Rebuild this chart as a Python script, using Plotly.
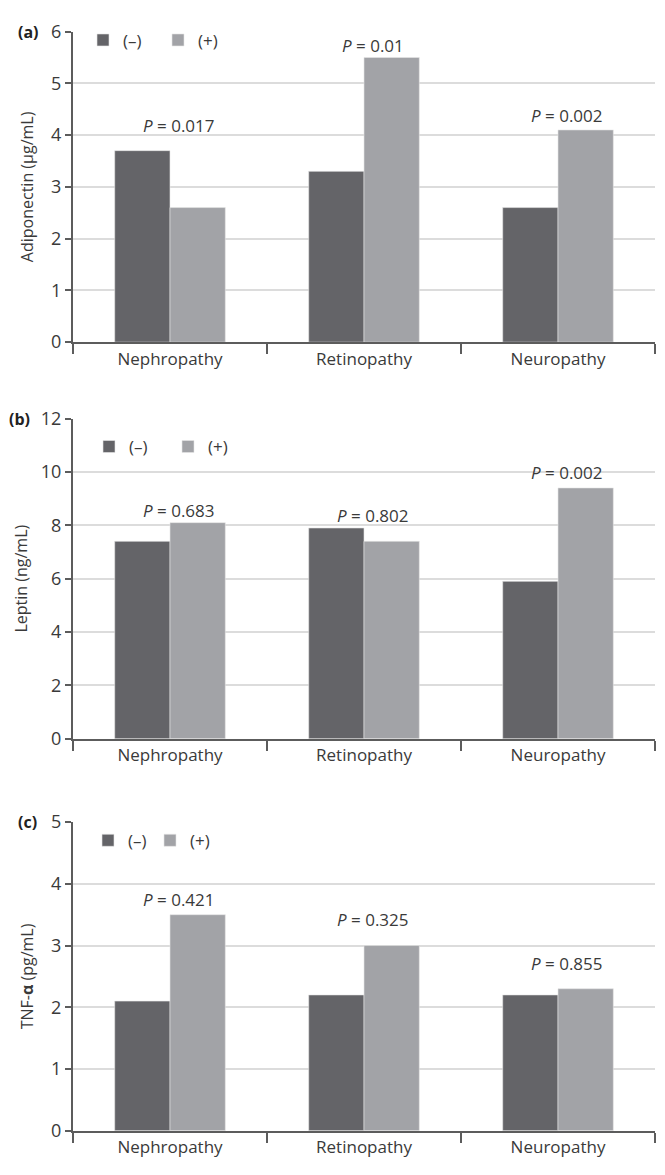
import plotly.graph_objects as go

categories = ["Nephropathy", "Retinopathy", "Neuropathy"]
series_names = ["(–)", "(+)"]

adiponectin_neg = [3.7, 3.3, 2.6]
adiponectin_pos = [2.6, 5.5, 4.1]
leptin_neg = [7.4, 7.9, 5.9]
leptin_pos = [8.1, 7.4, 9.4]
tnf_neg = [2.1, 2.2, 2.2]
tnf_pos = [3.5, 3.0, 2.3]

adiponectin_p = ["0.017", "0.01", "0.002"]
leptin_p = ["0.683", "0.802", "0.002"]
tnf_p = ["0.421", "0.325", "0.855"]

y_titles = ["Adiponectin (µg/mL)", "Leptin (ng/mL)", "TNF-<b>α</b> (pg/mL)"]
panel_letters = ["(a)", "(b)", "(c)"]
y_ranges = [[0, 6], [0, 12], [0, 5]]
y_dticks = [1, 2, 1]

# annotation placement (label centre, data units)
p_label_y = [[4.18, 5.74, 4.37], [8.55, 8.37, 9.98], [3.75, 3.43, 2.71]]

W, H = 665, 1175
DARK = "#646468"
LIGHT = "#a2a3a7"
AXIS = "#5c5c5c"
GRID = "#dcdcdc"
TXT = "#3a3a3a"
FONT = "Open Sans"

x_dom = [73 / W, 655 / W]
y_px = [(19, 336), (414, 741), (826, 1141)]
y_doms = [[1 - b / H, 1 - t / H] for t, b in y_px]
letter_x = [16, 7, 16]
title_standoff = [13, 9, 13]

fig = go.Figure()
panels = [
    (adiponectin_neg, adiponectin_pos, adiponectin_p),
    (leptin_neg, leptin_pos, leptin_p),
    (tnf_neg, tnf_pos, tnf_p),
]
legend_ids = ["legend", "legend2", "legend3"]
legend_pos = [(28, 83), (443, 89), (845, 88)]
legend_entry = [30, 34, 17]

for i, (neg, pos, pv) in enumerate(panels):
    xa = "x" if i == 0 else f"x{i+1}"
    ya = "y" if i == 0 else f"y{i+1}"
    for vals, name, col in [(neg, series_names[0], DARK), (pos, series_names[1], LIGHT)]:
        fig.add_trace(go.Bar(
            x=categories, y=vals, name=name, xaxis=xa, yaxis=ya,
            marker=dict(color=col, line=dict(color="#e6e6e6", width=0.6)),
            legend=legend_ids[i], showlegend=True, hoverinfo="skip",
        ))
    for j, cat in enumerate(categories):
        fig.add_annotation(
            x=cat, y=p_label_y[i][j], xref=xa, yref=ya,
            text=f"<i>P</i> = {pv[j]}", showarrow=False,
            xshift=9, yanchor="middle",
            font=dict(family=FONT, size=17, color=TXT),
        )
    fig.add_annotation(
        x=letter_x[i] / W, y=1 - y_px[i][0] / H, xref="paper", yref="paper",
        text=f"<b>{panel_letters[i]}</b>", showarrow=False,
        xanchor="left", yanchor="middle",
        font=dict(family=FONT, size=16, color="#222"),
    )
    ly, lx = legend_pos[i]
    fig.update_layout({
        legend_ids[i]: dict(
            orientation="h", x=lx / W, y=1 - ly / H, xanchor="left", yanchor="middle",
            font=dict(family=FONT, size=17, color=TXT),
            bgcolor="rgba(0,0,0,0)", itemclick=False, itemdoubleclick=False,
            entrywidth=legend_entry[i],
        )
    })
    xkey = "xaxis" if i == 0 else f"xaxis{i+1}"
    ykey = "yaxis" if i == 0 else f"yaxis{i+1}"
    fig.update_layout({
        xkey: dict(
            domain=x_dom, anchor=ya, type="category",
            showline=True, linecolor=AXIS, linewidth=2,
            ticks="outside", tickson="boundaries", ticklen=10, tickwidth=1.5, tickcolor=AXIS,
            tickfont=dict(family=FONT, size=17, color=TXT),
            showgrid=False, fixedrange=True,
        ),
        ykey: dict(
            domain=y_doms[i], anchor=xa, range=y_ranges[i], dtick=y_dticks[i],
            showline=True, linecolor=AXIS, linewidth=2,
            ticks="outside", ticklen=6, tickwidth=1.5, tickcolor=AXIS,
            tickfont=dict(family=FONT, size=18, color=TXT),
            showgrid=True, gridcolor=GRID, gridwidth=1.5,
            zeroline=False, fixedrange=True,
            title=dict(text=y_titles[i], font=dict(family=FONT, size=16, color=TXT),
                       standoff=title_standoff[i]),
        ),
    })

fig.update_layout(
    width=W, height=H, margin=dict(l=0, r=0, t=0, b=0),
    paper_bgcolor="white", plot_bgcolor="white",
    barmode="group", bargap=0.43, bargroupgap=0,
    font=dict(family=FONT),
)

fig.write_html("out.html", config={"displayModeBar": False},
               post_script="document.body.style.margin='0';")
